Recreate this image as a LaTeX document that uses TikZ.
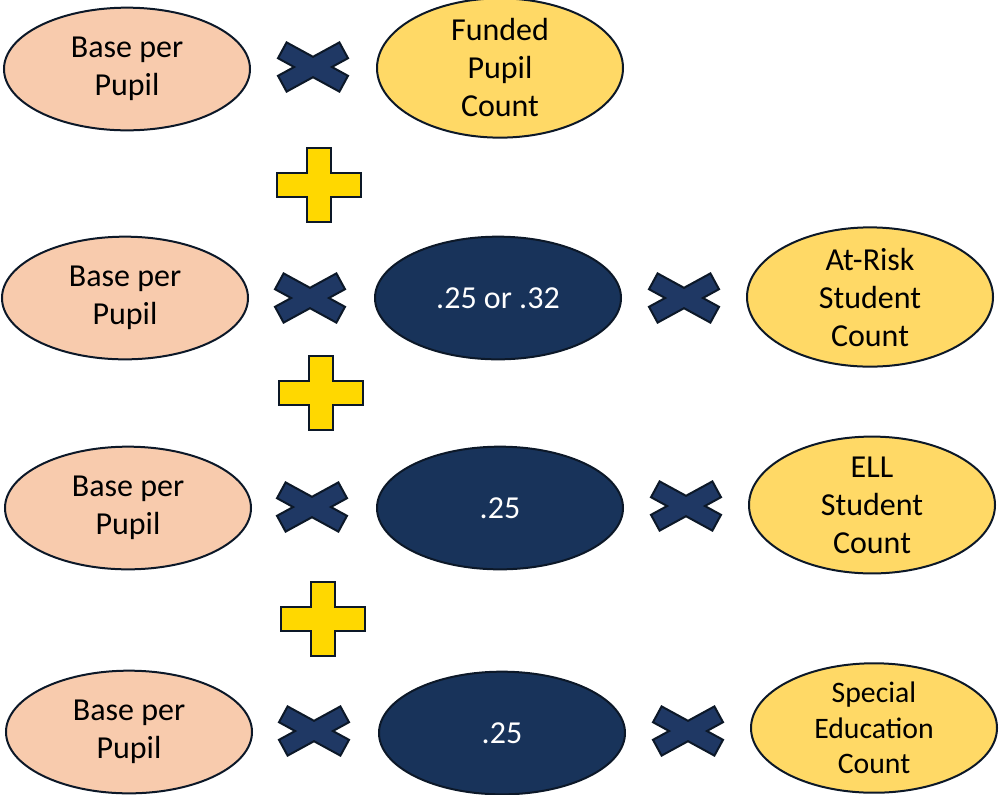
\documentclass[tikz,border=0pt]{standalone}
\usepackage{fontspec}
\setmainfont{Carlito}
\usepackage{tikz}
\usetikzlibrary{shapes.geometric}
\definecolor{peach}{HTML}{F8CBAD}
\definecolor{gold}{HTML}{FFD966}
\definecolor{navy}{HTML}{18335A}
\definecolor{signblue}{HTML}{1F3864}
\definecolor{signyellow}{HTML}{FFD800}
\definecolor{edge}{HTML}{0C1828}
\tikzstyle{oval} = [ellipse, draw=edge, line width=1.5pt, minimum width=184.5pt, minimum height=92pt, inner sep=0pt, align=center]
\tikzstyle{base} = [oval, fill=peach, font=\fontsize{24}{28.5}\selectfont]
\tikzstyle{count} = [oval, fill=gold, font=\fontsize{24}{28.5}\selectfont]
\tikzstyle{weight} = [oval, fill=navy, text=white, font=\fontsize{24}{28.5}\selectfont]
\tikzset{
 mulsign/.pic={
  \filldraw [fill=signblue, draw=edge, line width=1.5pt]
   (-26.4,-24.6) -- (0,-10.2) -- (26.4,-24.6) -- (35,-8.8) -- (18.9,0) -- (35,8.8)
   -- (26.4,24.6) -- (0,10.2) -- (-26.4,24.6) -- (-35,8.8) -- (-18.9,0) -- (-35,-8.8) -- cycle;
 },
 addsign/.pic={
  \filldraw [fill=signyellow, draw=edge, line width=1.5pt]
   (-12,-37) -- (12,-37) -- (12,-12) -- (42,-12) -- (42,12) -- (12,12)
   -- (12,37) -- (-12,37) -- (-12,12) -- (-42,12) -- (-42,-12) -- (-12,-12) -- cycle;
 }
}

\begin{document}
\begin{tikzpicture}[x=0.75pt, y=-0.75pt]
 \useasboundingbox (0,0) rectangle (999,794);
 % first term
 \node [base] (base1) at (127,69) {Base per\\Pupil};
 \pic (mul1) at (313,67) {mulsign};
 \node [count] (count1) at (500,68) {Funded\\Pupil\\Count};
 \pic (add1) at (319,185) {addsign};
 % at-risk
 \node [base] (base2) at (125,298) {Base per\\Pupil};
 \pic (mul2) at (310,298) {mulsign};
 \node [weight] (weight2) at (498,298) {.25 or .32};
 \pic (mul3) at (684,298) {mulsign};
 \node [count] (count2) at (870,297) {At-Risk\\Student\\Count};
 \pic (add2) at (321,393) {addsign};
 % ELL
 \node [base] (base3) at (128,508) {Base per\\Pupil};
 \pic (mul4) at (312,507) {mulsign};
 \node [weight] (weight3) at (500,508) {.25};
 \pic (mul5) at (686,506) {mulsign};
 \node [count] (count3) at (872,505) {ELL\\Student\\Count};
 \pic (add3) at (323,619) {addsign};
 % special education
 \node [base] (base4) at (129,732) {Base per\\Pupil};
 \pic (mul6) at (314,731) {mulsign};
 \node [weight] (weight4) at (502,733) {.25};
 \pic (mul7) at (688,731) {mulsign};
 \node [count, font=\fontsize{22.3}{26.5}\selectfont] (count4) at (874,728) {Special\\Education\\Count};
\end{tikzpicture}
\end{document}
